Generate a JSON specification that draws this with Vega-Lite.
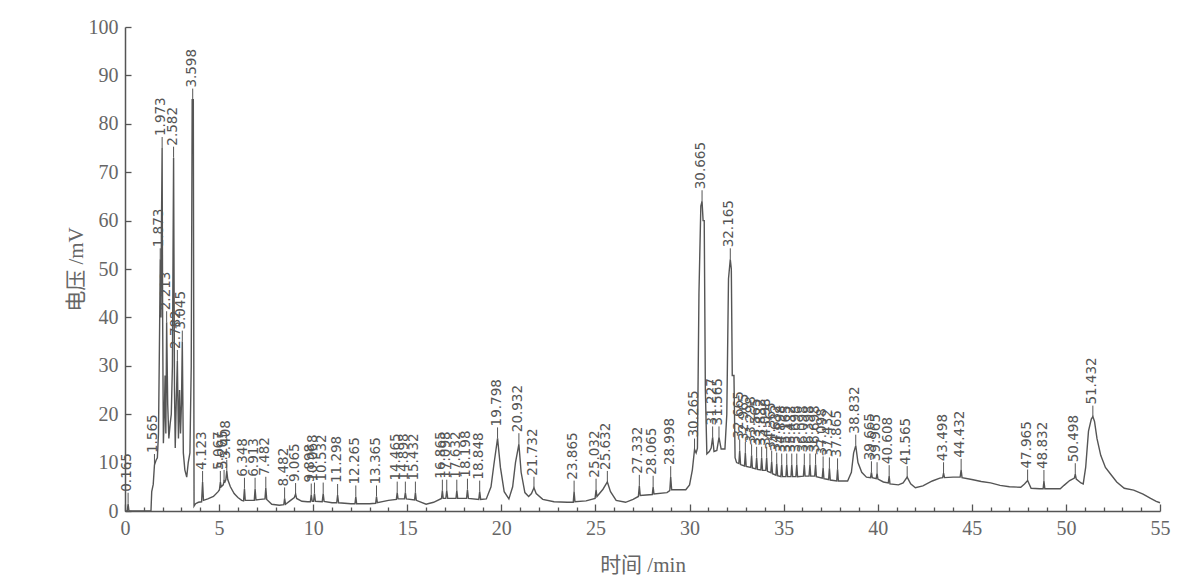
{
  "$schema": "https://vega.github.io/schema/vega-lite/v6.json",
  "width": 1035,
  "height": 484,
  "autosize": {"type": "none"},
  "padding": {"left": 125, "top": 27, "right": 35, "bottom": 75},
  "background": "white",
  "config": {
    "view": {"stroke": null},
    "axis": {
      "grid": false,
      "domainColor": "#555",
      "domainWidth": 1.5,
      "tickColor": "#555",
      "tickWidth": 1.3,
      "labelFont": "Liberation Serif",
      "labelFontSize": 20,
      "labelColor": "#666",
      "titleFont": "Liberation Serif, Noto Sans CJK SC",
      "titleFontSize": 21,
      "titleFontWeight": "normal",
      "titleColor": "#666"
    }
  },
  "resolve": {"axis": {"x": "independent"}},
  "datasets": {
    "trace": [
      {"t":0,"v":0},{"t":0.12,"v":0},{"t":0.165,"v":1.5},{"t":0.21,"v":0},{"t":1.38,"v":0},{"t":1.42,"v":4},{"t":1.5,"v":5.5},{"t":1.565,"v":9.5},{"t":1.65,"v":10.5},{"t":1.72,"v":11},{"t":1.78,"v":16},{"t":1.84,"v":38},{"t":1.873,"v":52},{"t":1.91,"v":40},{"t":1.94,"v":60},{"t":1.973,"v":75},{"t":2.0,"v":40},{"t":2.04,"v":14},{"t":2.09,"v":20},{"t":2.13,"v":28},{"t":2.17,"v":16},{"t":2.213,"v":39},{"t":2.27,"v":22},{"t":2.33,"v":15},{"t":2.4,"v":18},{"t":2.46,"v":20},{"t":2.52,"v":30},{"t":2.582,"v":73},{"t":2.63,"v":25},{"t":2.67,"v":13},{"t":2.72,"v":22},{"t":2.782,"v":31},{"t":2.84,"v":15},{"t":2.9,"v":25},{"t":2.95,"v":16},{"t":3.0,"v":22},{"t":3.045,"v":35},{"t":3.1,"v":12},{"t":3.18,"v":8.5},{"t":3.28,"v":7},{"t":3.36,"v":10},{"t":3.45,"v":12},{"t":3.52,"v":30},{"t":3.57,"v":85},{"t":3.598,"v":85},{"t":3.63,"v":85},{"t":3.67,"v":1},{"t":3.75,"v":1.5},{"t":3.9,"v":1.8},{"t":4.07,"v":1.9},{"t":4.123,"v":6},{"t":4.17,"v":2.2},{"t":4.4,"v":2.5},{"t":4.7,"v":3},{"t":4.95,"v":4},{"t":5.02,"v":4.4},{"t":5.067,"v":6},{"t":5.11,"v":5},{"t":5.22,"v":5.4},{"t":5.265,"v":6.2},{"t":5.31,"v":6},{"t":5.36,"v":6.5},{"t":5.408,"v":8.3},{"t":5.46,"v":6.5},{"t":5.6,"v":5},{"t":5.8,"v":3.6},{"t":6.0,"v":2.8},{"t":6.2,"v":2.2},{"t":6.3,"v":2.1},{"t":6.348,"v":4.6},{"t":6.39,"v":2.2},{"t":6.87,"v":2.2},{"t":6.913,"v":4.6},{"t":6.96,"v":2.3},{"t":7.2,"v":2.4},{"t":7.44,"v":2.5},{"t":7.482,"v":4.8},{"t":7.53,"v":2.4},{"t":7.8,"v":1.4},{"t":8.2,"v":1.2},{"t":8.44,"v":1.3},{"t":8.482,"v":2.6},{"t":8.53,"v":1.4},{"t":8.8,"v":2.2},{"t":9.0,"v":2.8},{"t":9.065,"v":3.5},{"t":9.12,"v":2.6},{"t":9.4,"v":2},{"t":9.7,"v":1.9},{"t":9.85,"v":1.9},{"t":9.898,"v":3.4},{"t":9.95,"v":2},{"t":10.02,"v":2},{"t":10.068,"v":3.6},{"t":10.12,"v":2},{"t":10.48,"v":1.9},{"t":10.532,"v":3.6},{"t":10.58,"v":2},{"t":11.0,"v":1.7},{"t":11.25,"v":1.7},{"t":11.298,"v":3.3},{"t":11.35,"v":1.7},{"t":12.0,"v":1.5},{"t":12.22,"v":1.5},{"t":12.265,"v":3},{"t":12.31,"v":1.5},{"t":13.0,"v":1.5},{"t":13.32,"v":1.6},{"t":13.365,"v":3},{"t":13.41,"v":1.7},{"t":14.0,"v":2.2},{"t":14.42,"v":2.4},{"t":14.465,"v":3.8},{"t":14.51,"v":2.5},{"t":14.85,"v":2.5},{"t":14.898,"v":3.8},{"t":14.95,"v":2.5},{"t":15.39,"v":2.3},{"t":15.432,"v":3.8},{"t":15.48,"v":2.2},{"t":16.0,"v":1.4},{"t":16.4,"v":1.8},{"t":16.82,"v":2.6},{"t":16.865,"v":4.2},{"t":16.91,"v":2.6},{"t":17.05,"v":2.6},{"t":17.098,"v":4.2},{"t":17.15,"v":2.6},{"t":17.59,"v":2.6},{"t":17.632,"v":4.2},{"t":17.68,"v":2.6},{"t":18.15,"v":2.6},{"t":18.198,"v":4.4},{"t":18.25,"v":2.6},{"t":18.8,"v":2.4},{"t":18.848,"v":4},{"t":18.9,"v":2.4},{"t":19.2,"v":2.5},{"t":19.45,"v":5},{"t":19.6,"v":9.5},{"t":19.798,"v":15},{"t":19.95,"v":9},{"t":20.15,"v":4},{"t":20.4,"v":2.5},{"t":20.6,"v":5},{"t":20.75,"v":10},{"t":20.932,"v":13.8},{"t":21.05,"v":8},{"t":21.25,"v":3.8},{"t":21.45,"v":3},{"t":21.6,"v":3.6},{"t":21.732,"v":4.8},{"t":21.85,"v":3.6},{"t":22.2,"v":2.4},{"t":22.8,"v":1.9},{"t":23.5,"v":1.8},{"t":23.82,"v":1.8},{"t":23.865,"v":4},{"t":23.91,"v":1.9},{"t":24.5,"v":2.1},{"t":24.98,"v":2.6},{"t":25.032,"v":4.4},{"t":25.08,"v":3},{"t":25.4,"v":4.5},{"t":25.632,"v":6},{"t":25.8,"v":4},{"t":26.1,"v":2.2},{"t":26.6,"v":1.8},{"t":27.0,"v":2.4},{"t":27.28,"v":3},{"t":27.332,"v":5.2},{"t":27.38,"v":3.2},{"t":28.02,"v":3.4},{"t":28.065,"v":5},{"t":28.11,"v":3.5},{"t":28.8,"v":3.8},{"t":28.95,"v":4.2},{"t":28.998,"v":7},{"t":29.05,"v":4.4},{"t":29.8,"v":4.4},{"t":30.0,"v":5.4},{"t":30.15,"v":8.5},{"t":30.265,"v":12.7},{"t":30.35,"v":12},{"t":30.42,"v":13},{"t":30.5,"v":45},{"t":30.6,"v":63},{"t":30.665,"v":64},{"t":30.72,"v":60},{"t":30.78,"v":60},{"t":30.84,"v":25},{"t":30.92,"v":11.8},{"t":31.05,"v":12.3},{"t":31.15,"v":13},{"t":31.227,"v":15.2},{"t":31.3,"v":12.3},{"t":31.45,"v":12.5},{"t":31.565,"v":15.2},{"t":31.68,"v":12.8},{"t":31.88,"v":12.8},{"t":31.98,"v":20},{"t":32.07,"v":48},{"t":32.165,"v":52},{"t":32.22,"v":50},{"t":32.27,"v":28},{"t":32.36,"v":28},{"t":32.42,"v":11},{"t":32.5,"v":10},
      {"t":32.62,"v":9.8},{"t":32.665,"v":12.5},{"t":32.71,"v":9.6},{"t":32.92,"v":9.3},{"t":32.965,"v":12},{"t":33.01,"v":9.2},{"t":33.25,"v":9},{"t":33.298,"v":11.5},{"t":33.34,"v":8.9},{"t":33.52,"v":8.7},{"t":33.565,"v":11},{"t":33.61,"v":8.6},{"t":33.79,"v":8.5},{"t":33.832,"v":11},{"t":33.88,"v":8.4},{"t":34.05,"v":8.4},{"t":34.098,"v":11},{"t":34.14,"v":8.2},{"t":34.32,"v":7.9},{"t":34.365,"v":10.2},{"t":34.41,"v":7.7},{"t":34.59,"v":7.4},{"t":34.632,"v":9.8},{"t":34.68,"v":7.3},{"t":34.85,"v":7.1},{"t":34.898,"v":9.6},{"t":34.94,"v":7.1},{"t":35.12,"v":7.1},{"t":35.165,"v":9.6},{"t":35.21,"v":7.1},{"t":35.39,"v":7.1},{"t":35.432,"v":9.6},{"t":35.48,"v":7.1},{"t":35.65,"v":7.1},{"t":35.698,"v":9.6},{"t":35.74,"v":7.1},{"t":36.05,"v":7.2},{"t":36.098,"v":9.6},{"t":36.14,"v":7.2},{"t":36.35,"v":7.2},{"t":36.398,"v":9.6},{"t":36.44,"v":7.2},{"t":36.65,"v":7.2},{"t":36.698,"v":9.6},{"t":36.74,"v":7.1},{"t":37.05,"v":6.8},{"t":37.098,"v":9},{"t":37.14,"v":6.7},{"t":37.39,"v":6.5},{"t":37.432,"v":8.8},{"t":37.48,"v":6.4},{"t":37.82,"v":6.2},{"t":37.865,"v":8.6},{"t":37.91,"v":6.2},{"t":38.4,"v":6.2},{"t":38.6,"v":8},{"t":38.72,"v":12},{"t":38.832,"v":13.5},{"t":38.95,"v":10},{"t":39.15,"v":8},{"t":39.4,"v":7},{"t":39.62,"v":6.9},{"t":39.665,"v":8},{"t":39.71,"v":6.9},{"t":39.92,"v":6.7},{"t":39.965,"v":7.8},{"t":40.01,"v":6.6},{"t":40.3,"v":6.0},{"t":40.56,"v":5.8},{"t":40.608,"v":7.2},{"t":40.65,"v":5.6},{"t":41.1,"v":5.4},{"t":41.35,"v":5.8},{"t":41.565,"v":7},{"t":41.75,"v":5.6},{"t":42.0,"v":4.8},{"t":42.4,"v":5.2},{"t":42.9,"v":6.2},{"t":43.3,"v":6.8},{"t":43.45,"v":6.9},{"t":43.498,"v":7.8},{"t":43.55,"v":6.9},{"t":44.0,"v":7},{"t":44.38,"v":7},{"t":44.432,"v":8.5},{"t":44.48,"v":6.9},{"t":45.0,"v":6.5},{"t":45.5,"v":6.1},{"t":46.0,"v":5.8},{"t":46.5,"v":5.3},{"t":47.0,"v":5},{"t":47.6,"v":4.9},{"t":47.8,"v":5.6},{"t":47.965,"v":6.3},{"t":48.15,"v":4.7},{"t":48.6,"v":4.6},{"t":48.79,"v":4.6},{"t":48.832,"v":6.2},{"t":48.88,"v":4.6},{"t":49.7,"v":4.6},{"t":49.9,"v":5.3},{"t":50.2,"v":6.3},{"t":50.45,"v":6.8},{"t":50.498,"v":7.6},{"t":50.55,"v":6.6},{"t":50.8,"v":5.8},{"t":50.92,"v":5.6},{"t":51.05,"v":9},{"t":51.2,"v":16.5},{"t":51.35,"v":19},{"t":51.432,"v":19.5},{"t":51.52,"v":18.5},{"t":51.65,"v":15},{"t":51.85,"v":11.5},{"t":52.1,"v":9},{"t":52.4,"v":7.5},{"t":52.7,"v":6},{"t":53.1,"v":4.7},{"t":53.6,"v":4.3},{"t":54.1,"v":3.5},{"t":54.5,"v":2.6},{"t":54.8,"v":2},{"t":55,"v":1.7}
    ],
    "peaks": [
      {"t":0.165,"v":1.5,"lab":"0.165"},{"t":1.565,"v":9.5,"lab":"1.565"},{"t":1.873,"v":52,"lab":"1.873"},{"t":1.973,"v":75,"lab":"1.973"},{"t":2.213,"v":39,"lab":"2.213"},{"t":2.582,"v":73,"lab":"2.582"},{"t":2.782,"v":31,"lab":"2.782"},{"t":3.045,"v":35,"lab":"3.045"},{"t":3.598,"v":85,"lab":"3.598"},{"t":4.123,"v":6,"lab":"4.123"},{"t":5.067,"v":6,"lab":"5.067"},{"t":5.265,"v":6.2,"lab":"5.265"},{"t":5.408,"v":8.3,"lab":"5.408"},{"t":6.348,"v":4.6,"lab":"6.348"},{"t":6.913,"v":4.6,"lab":"6.913"},{"t":7.482,"v":4.8,"lab":"7.482"},{"t":8.482,"v":2.6,"lab":"8.482"},{"t":9.065,"v":3.5,"lab":"9.065"},{"t":9.898,"v":3.4,"lab":"9.898"},{"t":10.068,"v":3.6,"lab":"10.068"},{"t":10.532,"v":3.6,"lab":"10.532"},{"t":11.298,"v":3.3,"lab":"11.298"},{"t":12.265,"v":3,"lab":"12.265"},{"t":13.365,"v":3,"lab":"13.365"},{"t":14.465,"v":3.8,"lab":"14.465"},{"t":14.898,"v":3.8,"lab":"14.898"},{"t":15.432,"v":3.8,"lab":"15.432"},{"t":16.865,"v":4.2,"lab":"16.865"},{"t":17.098,"v":4.2,"lab":"17.098"},{"t":17.632,"v":4.2,"lab":"17.632"},{"t":18.198,"v":4.4,"lab":"18.198"},{"t":18.848,"v":4,"lab":"18.848"},{"t":19.798,"v":15,"lab":"19.798"},{"t":20.932,"v":13.8,"lab":"20.932"},{"t":21.732,"v":4.8,"lab":"21.732"},{"t":23.865,"v":4,"lab":"23.865"},{"t":25.032,"v":4.4,"lab":"25.032"},{"t":25.632,"v":6,"lab":"25.632"},{"t":27.332,"v":5.2,"lab":"27.332"},{"t":28.065,"v":5,"lab":"28.065"},{"t":28.998,"v":7,"lab":"28.998"},{"t":30.265,"v":12.7,"lab":"30.265"},{"t":30.665,"v":64,"lab":"30.665"},{"t":31.227,"v":15.2,"lab":"31.227"},{"t":31.565,"v":15.2,"lab":"31.565"},{"t":32.165,"v":52,"lab":"32.165"},
      {"t":32.665,"v":12.5,"lab":"32.665"},{"t":32.965,"v":12,"lab":"32.965"},{"t":33.298,"v":11.5,"lab":"33.298"},{"t":33.565,"v":11,"lab":"33.565"},{"t":33.832,"v":11,"lab":"33.832"},{"t":34.098,"v":11,"lab":"34.098"},{"t":34.365,"v":10.2,"lab":"34.365"},{"t":34.632,"v":9.8,"lab":"34.632"},{"t":34.898,"v":9.6,"lab":"34.898"},{"t":35.165,"v":9.6,"lab":"35.165"},{"t":35.432,"v":9.6,"lab":"35.432"},{"t":35.698,"v":9.6,"lab":"35.698"},{"t":36.098,"v":9.6,"lab":"36.098"},{"t":36.398,"v":9.6,"lab":"36.398"},{"t":36.698,"v":9.6,"lab":"36.698"},{"t":37.098,"v":9,"lab":"37.098"},{"t":37.432,"v":8.8,"lab":"37.432"},{"t":37.865,"v":8.6,"lab":"37.865"},
      {"t":38.832,"v":13.5,"lab":"38.832"},{"t":39.665,"v":8,"lab":"39.665"},{"t":39.965,"v":7.8,"lab":"39.965"},{"t":40.608,"v":7.2,"lab":"40.608"},{"t":41.565,"v":7,"lab":"41.565"},{"t":43.498,"v":7.8,"lab":"43.498"},{"t":44.432,"v":8.5,"lab":"44.432"},{"t":47.965,"v":6.3,"lab":"47.965"},{"t":48.832,"v":6.2,"lab":"48.832"},{"t":50.498,"v":7.6,"lab":"50.498"},{"t":51.432,"v":19.5,"lab":"51.432"}
    ]
  },
  "layer": [
    {
      "data": {"name": "trace"},
      "mark": {"type": "line", "color": "#555", "strokeWidth": 1.4},
      "encoding": {
        "x": {
          "field": "t", "type": "quantitative",
          "scale": {"domain": [0, 55], "nice": false, "zero": false},
          "axis": {
            "orient": "bottom",
            "title": "时间 /min",
            "titlePadding": 16,
            "values": [0,5,10,15,20,25,30,35,40,45,50,55],
            "labelOverlap": false,
            "tickSize": -7,
            "labelPadding": 14,
            "labelFlush": false
          }
        },
        "y": {
          "field": "v", "type": "quantitative",
          "scale": {"domain": [0, 100], "nice": false},
          "axis": {
            "title": "电压 /mV",
            "titlePadding": 2,
            "values": [0,5,10,15,20,25,30,35,40,45,50,55,60,65,70,75,80,85,90,95,100],
            "labelOverlap": false,
            "tickSize": -6,
            "labelPadding": 13,
            "labelFlush": false
          }
        }
      }
    },
    {
      "data": {"name": "peaks"},
      "mark": {"type": "rule", "color": "#555", "strokeWidth": 1, "y2Offset": -11},
      "encoding": {
        "x": {
          "field": "t", "type": "quantitative",
          "axis": {
            "orient": "bottom",
            "title": null,
            "values": [1,2,3,4,6,7,8,9,11,12,13,14,16,17,18,19,21,22,23,24,26,27,28,29,31,32,33,34,36,37,38,39,41,42,43,44,46,47,48,49,51,52,53,54],
            "labels": false,
            "domain": false,
            "tickSize": -4
          }
        },
        "y": {"field": "v", "type": "quantitative"},
        "y2": {"field": "v"}
      }
    },
    {
      "data": {"name": "peaks"},
      "mark": {"type": "text", "angle": 270, "align": "left", "baseline": "middle", "dx": 12, "dy": -1, "fontSize": 13.5, "font": "DejaVu Sans", "color": "#555"},
      "encoding": {
        "x": {"field": "t", "type": "quantitative", "axis": null},
        "y": {"field": "v", "type": "quantitative"},
        "text": {"field": "lab"}
      }
    }
  ]
}
